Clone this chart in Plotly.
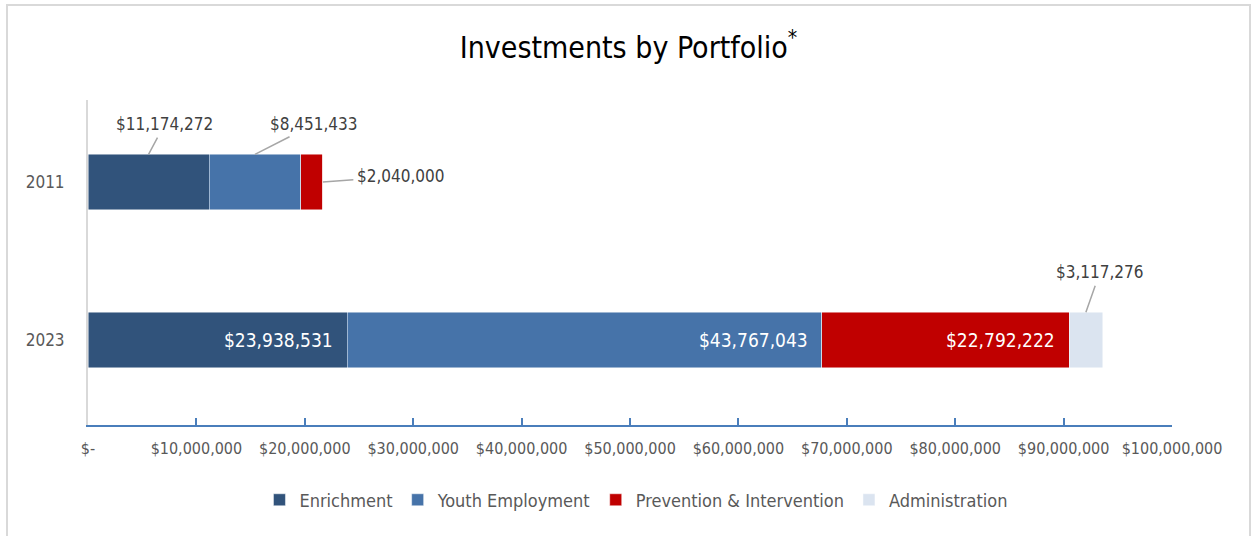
import plotly.graph_objects as go

years = ["2011", "2023"]
series_names = ["Enrichment", "Youth Employment", "Prevention & Intervention", "Administration"]
enrichment = [11174272, 23938531]
youth_employment = [8451433, 43767043]
prevention = [2040000, 22792222]
administration = [0, 3117276]
values = [enrichment, youth_employment, prevention, administration]
colors = ["#31537b", "#4673a9", "#c00000", "#dbe4f0"]

x_tickvals = [0, 10e6, 20e6, 30e6, 40e6, 50e6, 60e6, 70e6, 80e6, 90e6, 100e6]
x_ticktext = ["$-", "$10,000,000", "$20,000,000", "$30,000,000", "$40,000,000", "$50,000,000",
              "$60,000,000", "$70,000,000", "$80,000,000", "$90,000,000", "$100,000,000"]

FONT = "DejaVu Sans Condensed, DejaVu Sans, sans-serif"
BAR_W = 0.35


def money(v):
    return "${:,.0f}".format(v)


# outside labels with leader lines: (series index, year index, anchor, ax, ay)
outside = [
    (0, 0, "top", 16, -30),
    (1, 0, "top", 59, -30),
    (2, 0, "end", 78, -6),
    (3, 1, "top", 14, -40),
]
outside_keys = {(s, y) for s, y, *_ in outside}

ypos = list(range(len(years)))
fig = go.Figure()
for si, (name, vals, col) in enumerate(zip(series_names, values, colors)):
    fig.add_trace(go.Bar(
        name=name, y=ypos, x=vals, orientation="h", width=BAR_W,
        marker=dict(color=col, line=dict(color="rgba(255,255,255,0.6)", width=0.8)),
        hoverinfo="skip",
    ))

annotations = []
# inside (white) labels at the end of each segment
for si, vals in enumerate(values):
    for yi, v in enumerate(vals):
        if v == 0 or (si, yi) in outside_keys:
            continue
        end = sum(values[k][yi] for k in range(si + 1))
        annotations.append(dict(
            x=end, y=yi, xref="x", yref="y", text=money(v), showarrow=False,
            xanchor="right", yanchor="middle", xshift=-12,
            font=dict(family=FONT, size=19, color="white"),
        ))
# outside labels with leader lines
for si, yi, anchor, ax, ay in outside:
    start = sum(values[k][yi] for k in range(si))
    v = values[si][yi]
    if anchor == "top":
        px, py = start + v / 2, yi - BAR_W / 2
    else:
        px, py = start + v, yi
    annotations.append(dict(
        x=px, y=py, xref="x", yref="y", text=money(v), showarrow=True,
        arrowhead=0, arrowwidth=1.5, arrowcolor="#a6a6a6", ax=ax, ay=ay,
        font=dict(family=FONT, size=17, color="#404040"), standoff=0, startstandoff=2,
    ))

fig.update_layout(
    width=1257, height=536,
    margin=dict(l=88, r=85, t=100, b=111),
    paper_bgcolor="white", plot_bgcolor="white",
    barmode="stack",
    title=dict(text="Investments by Portfolio<sup>*</sup>", x=0.5, xanchor="center",
               y=1 - 47 / 536, yanchor="middle",
               font=dict(family=FONT, size=30, color="#000000")),
    font=dict(family=FONT, color="#595959"),
    showlegend=True,
    legend=dict(orientation="h", x=0.5055, xanchor="center", y=-0.231, yanchor="middle",
                font=dict(family=FONT, size=18, color="#595959"), traceorder="normal",
                itemwidth=30),
    annotations=annotations,
    shapes=[dict(type="rect", xref="paper", yref="paper",
                 x0=(7 - 88) / 1084, x1=(1250 - 88) / 1084,
                 y0=(425 - 560) / 325, y1=1 + 95 / 325,
                 line=dict(color="#d9d9d9", width=2), fillcolor="rgba(0,0,0,0)", layer="below")],
)
fig.update_xaxes(range=[0, 100e6], tickvals=x_tickvals, ticktext=x_ticktext,
                 showgrid=False, zeroline=False, showline=True, linecolor="#4a7ebb", linewidth=2,
                 ticks="inside", ticklen=7, tickwidth=2, tickcolor="#4a7ebb",
                 tickfont=dict(family=FONT, size=16, color="#595959"), ticklabelstandoff=8)
fig.update_yaxes(range=[1.538, -0.519], tickvals=ypos, ticktext=years,
                 showgrid=False, zeroline=False, showline=True, linecolor="#d9d9d9", linewidth=2,
                 ticks="", tickfont=dict(family=FONT, size=17, color="#595959"), ticklabelstandoff=18)

fig.write_html("out.html", config={"displayModeBar": False},
               post_script="document.body.style.margin='0px';")
